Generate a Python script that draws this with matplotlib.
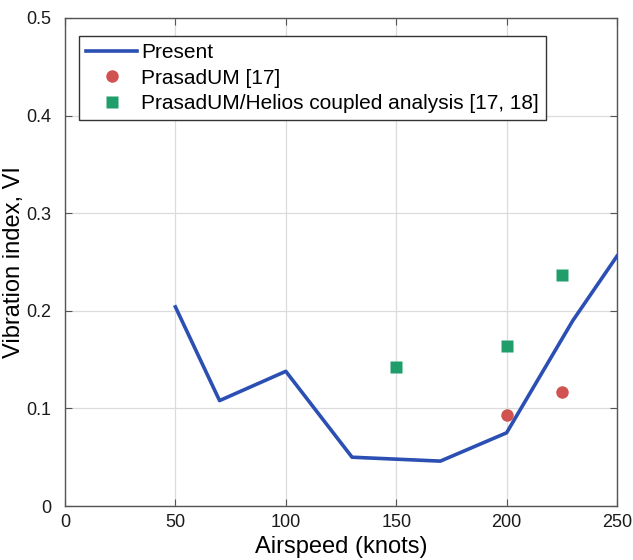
import matplotlib.pyplot as plt

plt.rcParams['font.family'] = ['Liberation Sans', 'DejaVu Sans']

# Present (line)
present_x = [50, 70, 100, 130, 170, 200, 230, 250]
present_y = [0.204, 0.108, 0.138, 0.050, 0.046, 0.075, 0.190, 0.256]

# PrasadUM [17]
prasad_x = [200, 225]
prasad_y = [0.093, 0.117]

# PrasadUM/Helios coupled analysis [17, 18]
helios_x = [150, 200, 225]
helios_y = [0.142, 0.164, 0.237]

fig = plt.figure(figsize=(6.33, 5.6), dpi=100)
ax = fig.add_axes([0.1027, 0.0964, 0.872, 0.8715])

ax.plot(present_x, present_y, color='#2b4fb3', lw=2.6, label='Present', zorder=3)
ax.plot(prasad_x, prasad_y, 'o', color='#d05352', ms=9, mec='none',
        label='PrasadUM [17]', zorder=4)
ax.plot(helios_x, helios_y, 's', color='#1f9e6b', ms=8, mec='none',
        label='PrasadUM/Helios coupled analysis [17, 18]', zorder=4)

ax.set_xlim(0, 250)
ax.set_ylim(0, 0.5)
ax.set_xticks([0, 50, 100, 150, 200, 250])
ax.set_yticks([0, 0.1, 0.2, 0.3, 0.4, 0.5])
ax.set_yticklabels(['0', '0.1', '0.2', '0.3', '0.4', '0.5'])
ax.grid(True, color='#dcdcdc', lw=0.9)
ax.set_axisbelow(True)
ax.tick_params(direction='in', top=True, right=True, labelsize=13,
               length=5, color='#555555', colors='#1a1a1a')
ax.tick_params(axis='x', pad=6)
ax.tick_params(axis='y', pad=10)
for s in ax.spines.values():
    s.set_color('#555555')
    s.set_linewidth(1.0)

ax.set_xlabel('Airspeed (knots)', fontsize=17, labelpad=3)
ax.set_ylabel('Vibration index, VI', fontsize=17)
ax.yaxis.set_label_coords(-0.072, 0.5)

leg = ax.legend(loc='upper left', bbox_to_anchor=(0.025, 0.963), fontsize=15,
                handlelength=2.45, handletextpad=0.2, borderpad=0.35,
                labelspacing=0.3, fancybox=False, framealpha=1,
                borderaxespad=0)
leg.get_frame().set_edgecolor('#333333')
leg.get_frame().set_linewidth(1.0)

fig.savefig('out.png', dpi=100)
